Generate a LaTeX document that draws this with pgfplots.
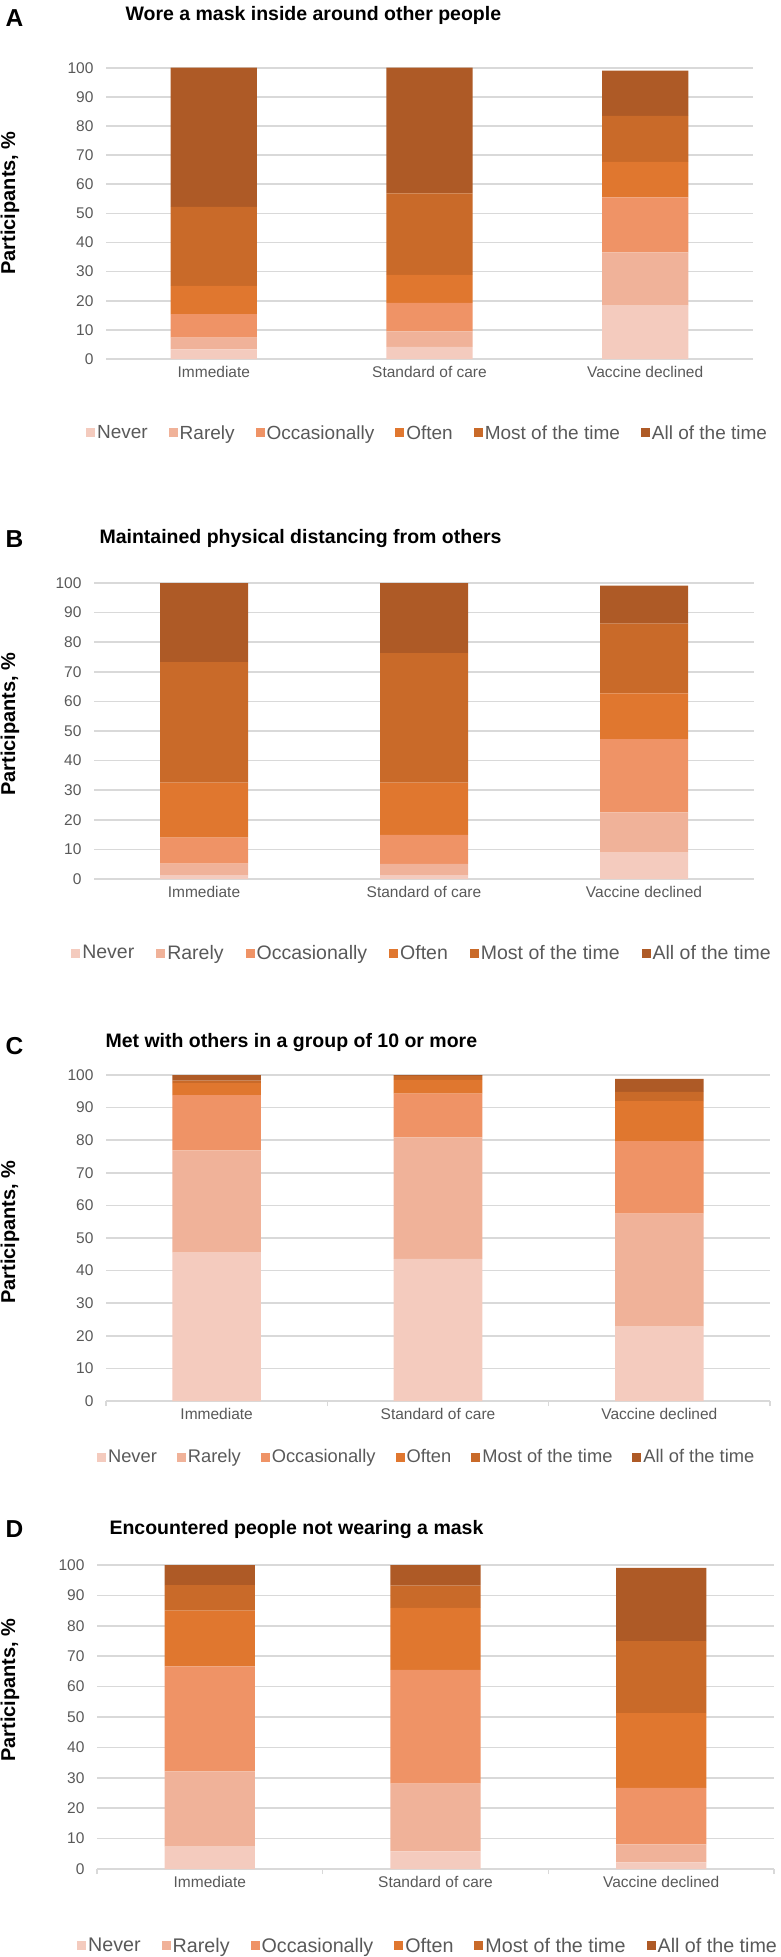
\documentclass[border=0pt]{standalone}
\usepackage{fontspec}
\setmainfont{Liberation Sans}
\usepackage{pgfplots}
\pgfplotsset{compat=1.18}

\definecolor{cNever}{HTML}{F4CBBE}
\definecolor{cRarely}{HTML}{F0B299}
\definecolor{cOcc}{HTML}{EF9366}
\definecolor{cOften}{HTML}{E0772F}
\definecolor{cMost}{HTML}{C96A29}
\definecolor{cAll}{HTML}{AE5A26}
\definecolor{gridgray}{HTML}{D9D9D9}
\definecolor{labgray}{HTML}{595959}

\newcommand{\ttl}{\bfseries\fontsize{19.5}{23}\selectfont}
\newcommand{\lett}{\bfseries\fontsize{24.5}{28}\selectfont}
\newcommand{\ylab}{\bfseries\fontsize{20}{24}\selectfont}

\pgfplotsset{
  panel/.style={
    scale only axis, ybar stacked, bar width=0.4, clip=false,
    xmin=-0.5, xmax=2.5, ymin=0, ymax=100,
    xtick={0,1,2}, xticklabels={Immediate, Standard of care, Vaccine declined},
    ytick={0,10,...,100},
    ymajorgrids, major grid style={draw=gridgray, line width=1.6pt},
    axis x line*=bottom, axis y line*=left,
    y axis line style={draw=none},
    x axis line style={draw=none},
    major tick length=0pt,
    /pgf/number format/assume math mode=true,
    tick label style={font=\fontsize{15.5}{18}\selectfont, text=labgray},
    yticklabel style={xshift=-9pt},
    xticklabel style={yshift=-4pt},
    legend columns=6,
    legend image code/.code={\draw[##1,draw=none] (0pt,-4.5pt) rectangle (9pt,4.5pt);},
    legend style={draw=none, fill=none, text=labgray, anchor=center, inner sep=0pt,
      nodes={inner xsep=2pt, inner ysep=0pt}},
  },
  legsep/.style={legend style={/tikz/every even column/.append style={column sep=#1}}},
  baseaxis/.style={
    x axis line style={draw=gridgray, line width=1.6pt},
    extra x ticks={-0.5,0.5,1.5,2.5}, extra x tick labels={},
    extra x tick style={tick align=outside, major tick length=5pt,
      tick style={draw=gridgray, line width=1.6pt}},
  },
}

\begin{document}
\begin{tikzpicture}
\useasboundingbox (0,0) rectangle (780pt,-1957pt);

% ---------- A ----------
\node[anchor=base west, font=\lett] at (2pt,-26pt) {A};
\node[anchor=base west, font=\ttl] at (122pt,-20.7pt) {Wore a mask inside around other people};
\node[rotate=90, font=\ylab] at (10pt,-203pt) {Participants, \%};
\begin{axis}[panel, legsep=19pt, at={(106pt,-359pt)}, anchor=south west,
    width=647pt, height=291.3pt,
    legend style={at={(0.497,-0.254)}, font=\fontsize{19}{22}\selectfont}]
\addplot[fill=cNever, draw=none]  coordinates {(0,3.3) (1,4.2) (2,18.3)};
\addplot[fill=cRarely, draw=none] coordinates {(0,4.0) (1,5.3) (2,18.3)};
\addplot[fill=cOcc, draw=none]    coordinates {(0,8.1) (1,9.8) (2,18.9)};
\addplot[fill=cOften, draw=none]  coordinates {(0,9.7) (1,9.6) (2,12.2)};
\addplot[fill=cMost, draw=none]   coordinates {(0,27.1) (1,28.0) (2,15.8)};
\addplot[fill=cAll, draw=none]    coordinates {(0,47.8) (1,43.1) (2,15.5)};
\legend{Never,Rarely,Occasionally,Often,Most of the time,All of the time}
\end{axis}

% ---------- B ----------
\node[anchor=base west, font=\lett] at (2pt,-547pt) {B};
\node[anchor=base west, font=\ttl] at (96pt,-543pt) {Maintained physical distancing from others};
\node[rotate=90, font=\ylab] at (10pt,-724pt) {Participants, \%};
\begin{axis}[panel, legsep=20pt, at={(94pt,-879pt)}, anchor=south west,
    width=660pt, height=296pt,
    legend style={at={(0.497,-0.25)}, font=\fontsize{19.5}{22}\selectfont}]
\addplot[fill=cNever, draw=none]  coordinates {(0,1.35) (1,1.35) (2,8.9)};
\addplot[fill=cRarely, draw=none] coordinates {(0,3.85) (1,3.75) (2,13.6)};
\addplot[fill=cOcc, draw=none]    coordinates {(0,8.8) (1,9.8) (2,24.8)};
\addplot[fill=cOften, draw=none]  coordinates {(0,18.6) (1,17.7) (2,15.4)};
\addplot[fill=cMost, draw=none]   coordinates {(0,40.7) (1,43.7) (2,23.6)};
\addplot[fill=cAll, draw=none]    coordinates {(0,26.7) (1,23.7) (2,12.8)};
\legend{Never,Rarely,Occasionally,Often,Most of the time,All of the time}
\end{axis}

% ---------- C ----------
\node[anchor=base west, font=\lett] at (2pt,-1054pt) {C};
\node[anchor=base west, font=\ttl] at (102pt,-1047pt) {Met with others in a group of 10 or more};
\node[rotate=90, font=\ylab] at (10pt,-1232pt) {Participants, \%};
\begin{axis}[panel, baseaxis, legsep=18pt, at={(106pt,-1401pt)}, anchor=south west,
    width=664pt, height=326pt,
    legend style={at={(0.483,-0.172)}, font=\fontsize{18.3}{21}\selectfont}]
\addplot[fill=cNever, draw=none]  coordinates {(0,45.5) (1,43.6) (2,22.8)};
\addplot[fill=cRarely, draw=none] coordinates {(0,31.4) (1,37.3) (2,34.7)};
\addplot[fill=cOcc, draw=none]    coordinates {(0,16.9) (1,13.4) (2,22.2)};
\addplot[fill=cOften, draw=none]  coordinates {(0,3.7) (1,4.2) (2,12.3)};
\addplot[fill=cMost, draw=none]   coordinates {(0,0.8) (1,1.2) (2,2.8)};
\addplot[fill=cAll, draw=none]    coordinates {(0,1.7) (1,0.3) (2,4.0)};
\legend{Never,Rarely,Occasionally,Often,Most of the time,All of the time}
\end{axis}

% ---------- D ----------
\node[anchor=base west, font=\lett] at (2pt,-1537pt) {D};
\node[anchor=base west, font=\ttl] at (106pt,-1534pt) {Encountered people not wearing a mask};
\node[rotate=90, font=\ylab] at (10pt,-1690pt) {Participants, \%};
\begin{axis}[panel, baseaxis, legsep=19pt, at={(97pt,-1869pt)}, anchor=south west,
    width=677pt, height=304pt,
    legend style={at={(0.489,-0.253)}, font=\fontsize{19.7}{22}\selectfont}]
\addplot[fill=cNever, draw=none]  coordinates {(0,7.4) (1,5.8) (2,2.2)};
\addplot[fill=cRarely, draw=none] coordinates {(0,24.7) (1,22.3) (2,5.9)};
\addplot[fill=cOcc, draw=none]    coordinates {(0,34.6) (1,37.4) (2,18.6)};
\addplot[fill=cOften, draw=none]  coordinates {(0,18.3) (1,20.4) (2,24.6)};
\addplot[fill=cMost, draw=none]   coordinates {(0,8.4) (1,7.3) (2,23.7)};
\addplot[fill=cAll, draw=none]    coordinates {(0,6.6) (1,6.8) (2,24.1)};
\legend{Never,Rarely,Occasionally,Often,Most of the time,All of the time}
\end{axis}
\end{tikzpicture}
\end{document}
